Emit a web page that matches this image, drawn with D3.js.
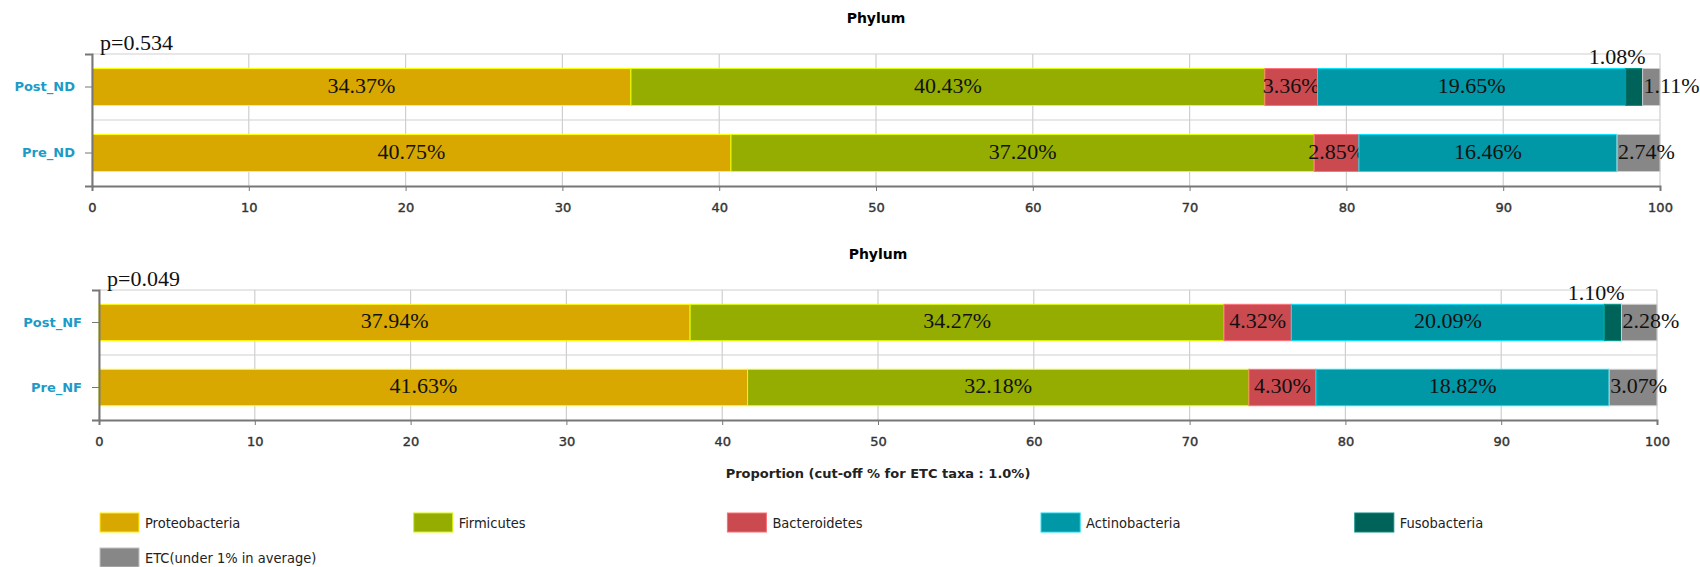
<!DOCTYPE html>
<html>
<head>
<meta charset="utf-8">
<script src="https://d3js.org/d3.v7.min.js"></script>
<style>
  body { margin: 0; background: #fff; }
  .tick text { font-family: "DejaVu Sans", Verdana, sans-serif; }
</style>
</head>
<body>
<div id="chart"></div>
<script>
// series (phylum) names and colours
var phyla = ["Proteobacteria", "Firmicutes", "Bacteroidetes", "Actinobacteria", "Fusobacteria", "ETC(under 1% in average)"];
var phylaColors = ["#d9a800", "#94ad00", "#cb4a50", "#0097a7", "#00635a", "#878787"];

// ND comparison
var groupsND = ["Post_ND", "Pre_ND"];
var valuesND = [
  [34.37, 40.43, 3.36, 19.65, 1.08, 1.11],
  [40.75, 37.20, 2.85, 16.46, 0, 2.74]
];
// NF comparison
var groupsNF = ["Post_NF", "Pre_NF"];
var valuesNF = [
  [37.94, 34.27, 4.32, 20.09, 1.10, 2.28],
  [41.63, 32.18, 4.30, 18.82, 0, 3.07]
];
var pValues = ["p=0.534", "p=0.049"];
var panelTitle = "Phylum";
var xTicks = [0, 10, 20, 30, 40, 50, 60, 70, 80, 90, 100];
var xTitle = "Proportion (cut-off % for ETC taxa : 1.0%)";

var svg = d3.select("#chart").append("svg")
  .attr("width", 1700)
  .attr("height", 567);

function draw_panel(groups, values, pText, box, showXTitle)
{
  var xScale = d3.scaleLinear()
    .domain([0, 100])
    .range([box.left, box.right]);

  var yScale = d3.scaleBand()
    .domain(groups)
    .range([box.top, box.bottom])
    .padding(0);

  var barH = yScale.bandwidth() * 0.56;
  var g = svg.append("g");

  // title
  g.append("text")
    .attr("x", (box.left + box.right) / 2)
    .attr("y", box.top - 36)
    .attr("dy", "0.35em")
    .attr("text-anchor", "middle")
    .style("font-family", "'DejaVu Sans', Verdana, sans-serif")
    .style("font-weight", "bold")
    .style("font-size", "14px")
    .text(panelTitle);

  // vertical grid
  g.append("g")
    .selectAll("line")
    .data(xTicks)
    .enter().append("line")
    .attr("x1", function(d) { return xScale(d); })
    .attr("x2", function(d) { return xScale(d); })
    .attr("y1", box.top)
    .attr("y2", box.bottom)
    .attr("stroke", "#cfcfcf")
    .attr("stroke-width", 1.2);

  // horizontal grid (top border + between bands)
  g.append("g")
    .selectAll("line")
    .data(groups)
    .enter().append("line")
    .attr("x1", box.left)
    .attr("x2", box.right)
    .attr("y1", function(d) { return yScale(d); })
    .attr("y2", function(d) { return yScale(d); })
    .attr("stroke", "#cfcfcf")
    .attr("stroke-width", 1.2);

  // stacked segments
  groups.forEach(function(grp, gi) {
    var start = 0;
    var y0 = yScale(grp) + (yScale.bandwidth() - barH) / 2;
    values[gi].forEach(function(v, si) {
      var s = start;
      start += v;
      if (v <= 0) return;
      g.append("rect")
        .attr("x", xScale(s))
        .attr("y", y0)
        .attr("width", xScale(s + v) - xScale(s))
        .attr("height", barH)
        .attr("fill", phylaColors[si])
        .attr("stroke", d3.color(phylaColors[si]).brighter(1.2))
        .attr("stroke-width", 1);

      // small segments get their label moved off the bar
      var lx = xScale(s + v / 2), ly = y0 + barH / 2 - 2, anchor = "middle";
      if (si == 4) { lx = xScale(s + v) + 3; ly = y0 - 12; anchor = "end"; }
      if (si == 5) { lx = xScale(s) + 1; anchor = "start"; }
      g.append("text")
        .attr("x", lx)
        .attr("y", ly)
        .attr("dy", "0.35em")
        .attr("text-anchor", anchor)
        .style("font-family", "'Liberation Serif', 'Times New Roman', serif")
        .style("font-size", "22px")
        .attr("fill", "#111")
        .text(v.toFixed(2) + "%");
    });
  });

  // x axis
  var xAxis = g.append("g")
    .attr("transform", "translate(0," + box.bottom + ")")
    .call(d3.axisBottom(xScale).tickValues(xTicks).tickSize(5).tickPadding(12));
  xAxis.select(".domain").attr("stroke", "#777").attr("stroke-width", 2);
  xAxis.selectAll(".tick line").attr("stroke", "#777");
  xAxis.selectAll(".tick text")
    .style("font-size", "13px")
    .attr("fill", "#333")
    .attr("stroke", "#333")
    .attr("stroke-width", 0.4);

  // y axis
  var yAxis = g.append("g")
    .attr("transform", "translate(" + box.left + ",0)")
    .call(d3.axisLeft(yScale).tickSize(7).tickPadding(10));
  yAxis.select(".domain").attr("stroke", "#777").attr("stroke-width", 2);
  yAxis.selectAll(".tick line").attr("stroke", "#777");
  yAxis.selectAll(".tick text")
    .style("font-size", "13px")
    .style("font-weight", "bold")
    .attr("fill", "#1b9bc8");

  // p value
  g.append("text")
    .attr("x", box.left + 8)
    .attr("y", box.top - 4)
    .style("font-family", "'Liberation Serif', 'Times New Roman', serif")
    .style("font-size", "22px")
    .attr("fill", "#111")
    .text(pText);

  if (showXTitle) {
    g.append("text")
      .attr("x", (box.left + box.right) / 2)
      .attr("y", box.bottom + 53)
      .attr("dy", "0.35em")
      .attr("text-anchor", "middle")
      .style("font-family", "'DejaVu Sans', Verdana, sans-serif")
      .style("font-weight", "bold")
      .style("font-size", "13px")
      .attr("fill", "#222")
      .text(xTitle);
  }
}

draw_panel(groupsND, valuesND, pValues[0], {left: 92, right: 1660, top: 54, bottom: 186}, false);
draw_panel(groupsNF, valuesNF, pValues[1], {left: 99, right: 1657, top: 290, bottom: 420}, true);

// legend
var legend = svg.append("g")
  .selectAll("g")
  .data(phyla)
  .enter().append("g")
  .attr("transform", function(d, i) {
    return "translate(" + (100 + (i % 5) * 313.7) + "," + (513 + Math.floor(i / 5) * 35) + ")";
  });

legend.append("rect")
  .attr("width", 39)
  .attr("height", 19)
  .attr("fill", function(d, i) { return phylaColors[i]; })
  .attr("stroke", function(d, i) { return d3.color(phylaColors[i]).brighter(1); })
  .attr("stroke-width", 1);

legend.append("text")
  .attr("x", 45)
  .attr("y", 10)
  .attr("dy", "0.35em")
  .style("font-family", "'DejaVu Sans Condensed', 'DejaVu Sans', sans-serif")
  .style("font-size", "14.5px")
  .attr("fill", "#222")
  .text(function(d) { return d; });
</script>
</body>
</html>
